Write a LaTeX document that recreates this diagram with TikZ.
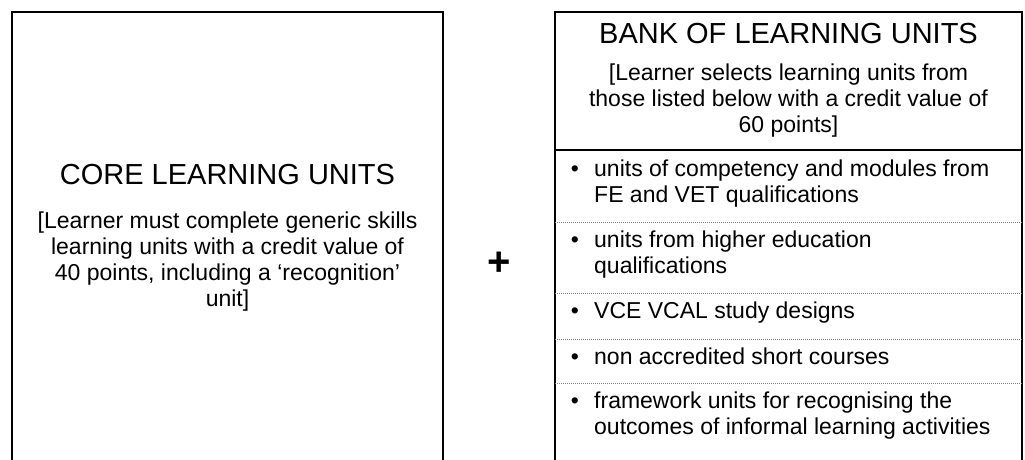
\documentclass[tikz,border=0pt]{standalone}
\usepackage{fontspec}
\setmainfont{Liberation Sans}
\usetikzlibrary{positioning}

\tikzset{
  headtxt/.style={font=\fontsize{29}{34}\selectfont, inner sep=0pt, anchor=base},
  bodytxt/.style={font=\fontsize{23}{26}\selectfont, align=center, inner sep=0pt, anchor=base},
  itemtxt/.style={font=\fontsize{23}{26}\selectfont, align=left, inner sep=0pt, anchor=base west},
  bullet/.style={font=\fontsize{23}{26}\selectfont, inner sep=0pt, anchor=base},
  divider/.style={gray, line width=1pt, dash pattern=on 1pt off 1pt},
}

\begin{document}
\begin{tikzpicture}[x=1pt,y=-1pt]
\useasboundingbox (0,0) rectangle (1025,460);

% core box (open at the bottom)
\draw[line width=2pt] (12,460) -- (12,12) -- (443,12) -- (443,460);
\node[headtxt] (core) at (227.5,184) {CORE LEARNING UNITS};
% base = last line of the node
\node[bodytxt] (coretxt) at (227.5,306) {[Learner must complete generic skills\\learning units with a credit value of\\40 points, including a ‘recognition’\\unit]};

\node[font=\fontsize{40}{40}\selectfont\bfseries, inner sep=0pt] (plus) at (499,264) {+};

% bank box
\draw[line width=1.3pt] (555,460) -- (555,12) -- (1022,12) -- (1022,460);
\draw[line width=1.3pt] (555,150) -- (1022,150);
\foreach \y in {222,293,339,383}
\draw[divider] (555,\y) -- (1022,\y);

\node[headtxt] (bank) at (788.5,44) {BANK OF LEARNING UNITS};
\node[bodytxt] (banktxt) at (788.5,132) {[Learner selects learning units from\\those listed below with a credit value of\\60 points]};

\foreach \i/\y in {1/176,2/247,3/318,4/364,5/408}
\node[bullet] (dot\i) at (575,\y) {•};

\node[itemtxt] (item1) at (594,202) {units of competency and modules from\\FE and VET qualifications};
\node[itemtxt] (item2) at (594,273) {units from higher education\\qualifications};
\node[itemtxt] (item3) at (594,318) {VCE VCAL study designs};
\node[itemtxt] (item4) at (594,364) {non accredited short courses};
\node[itemtxt] (item5) at (594,434) {framework units for recognising the\\outcomes of informal learning activities};
\end{tikzpicture}
\end{document}
